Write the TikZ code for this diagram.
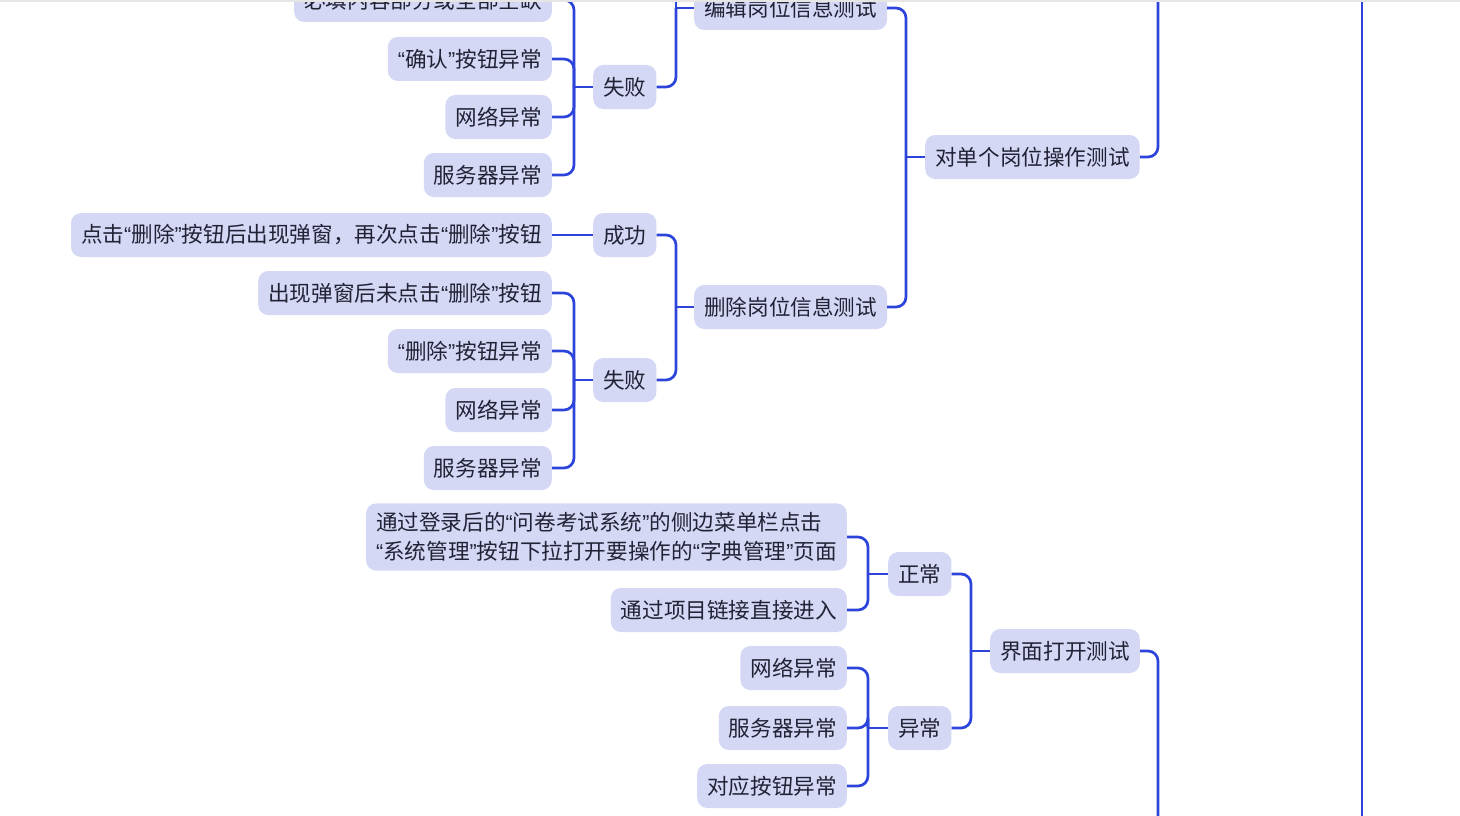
\documentclass[tikz,border=0pt]{standalone}
\usepackage{fontspec}
\setmainfont{Noto Sans CJK SC}
\newfontfamily\quotefont{Liberation Sans}
\usepackage{tikz}
\usetikzlibrary{positioning}
\definecolor{cLine}{HTML}{2D44DB}
\definecolor{cFill}{HTML}{D4D8F5}
\definecolor{cText}{HTML}{222236}
\definecolor{cEdge}{HTML}{E6E6E6}
\newcommand{\quoted}[1]{{\quotefont “}#1{\quotefont ”}}

\begin{document}
\begin{tikzpicture}[
    x=1pt, y=-1pt,
    font=\fontsize{21.6}{29}\selectfont,
    topic/.style={fill=cFill, text=cText, rounded corners=10pt, inner xsep=10pt, inner ysep=9pt, minimum height=44pt, align=left},
    link/.style={cLine, line width=2.7pt, rounded corners=10pt},
]
\useasboundingbox (0,0) rectangle (1460,816);
\clip (0,0) rectangle (1460,816);

\node[topic, anchor=east] (must) at (552,0) {必填内容部分或全部空缺};
\node[topic, anchor=east] (okerr) at (552,59) {\quoted{确认}按钮异常};
\node[topic, anchor=east] (net1) at (552,117) {网络异常};
\node[topic, anchor=east] (srv1) at (552,175) {服务器异常};
\node[topic, anchor=west] (fail1) at (593,87) {失败};
\node[topic, anchor=west] (edit) at (694,8) {编辑岗位信息测试};
\node[topic, anchor=west] (single) at (925,157) {对单个岗位操作测试};

\node[topic, anchor=east] (twice) at (552,235) {点击\quoted{删除}按钮后出现弹窗，再次点击\quoted{删除}按钮};
\node[topic, right=41pt of twice] (ok2) {成功};
\node[topic, anchor=east] (noclick) at (552,293) {出现弹窗后未点击\quoted{删除}按钮};
\node[topic, anchor=east] (delerr) at (552,351) {\quoted{删除}按钮异常};
\node[topic, anchor=east] (net2) at (552,410) {网络异常};
\node[topic, anchor=east] (srv2) at (552,468) {服务器异常};
\node[topic, anchor=west] (fail2) at (593,380) {失败};
\node[topic, anchor=west] (del) at (694,307) {删除岗位信息测试};

\node[topic, anchor=east] (menu) at (847,537) {通过登录后的\quoted{问卷考试系统}的侧边菜单栏点击\\\quoted{系统管理}按钮下拉打开要操作的\quoted{字典管理}页面};
\node[topic, anchor=east] (direct) at (847,610) {通过项目链接直接进入};
\node[topic, anchor=east] (net3) at (847,668) {网络异常};
\node[topic, anchor=east] (srv3) at (847,728) {服务器异常};
\node[topic, anchor=east] (btn) at (847,786) {对应按钮异常};
\node[topic, anchor=west] (normal) at (888,574) {正常};
\node[topic, right=41pt of srv3] (abnormal) {异常};
\node[topic, anchor=west] (open) at (990,651) {界面打开测试};

\coordinate (jfail1) at ([xshift=-19pt]fail1.west);
\coordinate (jedit) at ([xshift=-18pt]edit.west);
\coordinate (jsingle) at ([xshift=-19pt]single.west);
\coordinate (jfail2) at ([xshift=-19pt]fail2.west);
\coordinate (jdel) at ([xshift=-18pt]del.west);
\coordinate (jnormal) at ([xshift=-20pt]normal.west);
\coordinate (jabnormal) at ([xshift=-20pt]abnormal.west);
\coordinate (jopen) at ([xshift=-19pt]open.west);
\coordinate (upedit) at (676,-30);
\coordinate (upmain) at (1158,-30);
\coordinate (downmain) at (1158,846);
\coordinate (uproot) at (1362,-30);
\coordinate (downroot) at (1362,846);

\foreach \c in {must,okerr,net1,srv1} \draw[link] (\c.east) -| (jfail1);
\draw[link] (jfail1) -- (fail1.west);
\draw[link] (fail1.east) -| (jedit);
\draw[link] (upedit) -- (jedit);
\draw[link] (jedit) -- (edit.west);
\foreach \c in {edit,del} \draw[link] (\c.east) -| (jsingle);
\draw[link] (jsingle) -- (single.west);
\draw[link] (single.east) -| (upmain);

\draw[link] (twice) -- (ok2);
\foreach \c in {ok2,fail2} \draw[link] (\c.east) -| (jdel);
\draw[link] (jdel) -- (del.west);
\foreach \c in {noclick,delerr,net2,srv2} \draw[link] (\c.east) -| (jfail2);
\draw[link] (jfail2) -- (fail2.west);

\foreach \c in {menu,direct} \draw[link] (\c.east) -| (jnormal);
\draw[link] (jnormal) -- (normal.west);
\foreach \c in {net3,srv3,btn} \draw[link] (\c.east) -| (jabnormal);
\draw[link] (jabnormal) -- (abnormal.west);
\foreach \c in {normal,abnormal} \draw[link] (\c.east) -| (jopen);
\draw[link] (jopen) -- (open.west);
\draw[link] (open.east) -| (downmain);

\draw[link] (uproot) -- (downroot);
\fill[cEdge] (0,0) rectangle (1460,2);
\end{tikzpicture}
\end{document}
